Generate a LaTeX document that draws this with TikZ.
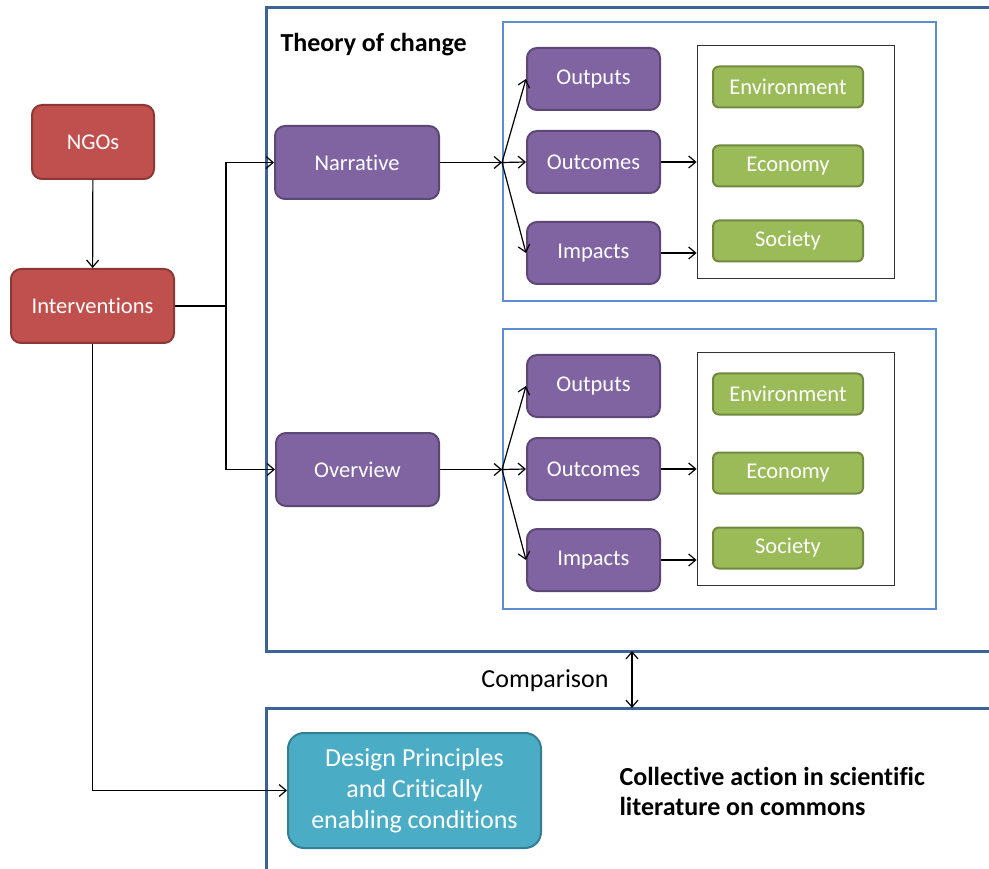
\documentclass[tikz,border=0pt]{standalone}
\usepackage{fontspec}
\setmainfont{Carlito}[Ligatures={NoCommon,NoRare,NoContextual}]
\usepackage{tikz}
\usetikzlibrary{arrows.meta,positioning,calc}
\definecolor{ngored}{HTML}{C0504D}
\definecolor{ngoedge}{HTML}{8C3836}
\definecolor{tocpurple}{HTML}{8064A2}
\definecolor{tocedge}{HTML}{5C4776}
\definecolor{dimgreen}{HTML}{9BBB59}
\definecolor{dimedge}{HTML}{71893F}
\definecolor{litcyan}{HTML}{4BACC6}
\definecolor{litedge}{HTML}{357D91}
\definecolor{framedark}{HTML}{3D6396}
\definecolor{framelight}{HTML}{5B8FD0}
\tikzset{
  boxtext/.style={text=white, font=\fontsize{22.5}{27}\selectfont, rounded corners=10pt, line width=2pt, align=center, inner sep=0pt},
  redbox/.style={boxtext, fill=ngored, draw=ngoedge},
  purplebox/.style={boxtext, fill=tocpurple, draw=tocedge},
  greenbox/.style={boxtext, fill=dimgreen, draw=dimedge, rounded corners=6pt, minimum width=150pt, minimum height=41pt},
  conn/.style={line width=1.2pt, ->},
}

\begin{document}
\begin{tikzpicture}[x=1pt, y=-1pt, >={Straight Barb[length=7pt,width=12pt]}]
\clip (0,0) rectangle (989,869);

% frames
\draw[framedark, line width=3pt] (1000,8) -- (266,8) -- (266,651) -- (1000,651);
\draw[framedark, line width=3pt] (1000,708) -- (266,708) -- (266,880);
\node[anchor=west, font=\fontsize{26}{30}\selectfont\bfseries] (toctitle) at (277,45) {Theory of change};

% inner frames
\foreach \y/\n in {162/1, 469/2} {
  \node[draw=framelight, line width=2pt, minimum width=433pt, minimum height=279pt, inner sep=0pt] (frame\n) at (719.5,\y) {};
  \node[draw=black!80, line width=0.9pt, minimum width=197pt, minimum height=233pt, inner sep=0pt] (dom\n) at (795.5,\y) {};
}

% NGOs / interventions
\node[redbox, minimum width=122pt, minimum height=74pt] (ngo) at (93,142) {NGOs};
\node[redbox, minimum width=163pt, minimum height=74pt] (interv) at (92.5,306) {Interventions};
\draw[conn] (ngo) -- (interv);

% narrative / overview
\node[purplebox, minimum width=164pt, minimum height=73pt] (narr) at (357,162.5) {Narrative};
\node[purplebox, minimum width=163pt, minimum height=73pt] (over) at (357.5,469.5) {Overview};
\coordinate (split) at (226,306);
\draw[line width=1.2pt] (interv.east) -- (split);
\draw[conn] (split) |- (narr.west);
\draw[conn] (split) |- (over.west);

% chains
\foreach \y/\n/\src in {162/1/narr, 469/2/over} {
  \node[purplebox, minimum width=133pt, minimum height=62pt] (outp\n) at (593.5,\y-83) {Outputs};
  \node[purplebox, minimum width=133pt, minimum height=62pt] (outc\n) at (593.5,\y) {Outcomes};
  \node[purplebox, minimum width=133pt, minimum height=62pt] (imp\n) at (593.5,\y+91) {Impacts};
  \node[greenbox] (env\n) at (788,\y-75) {Environment};
  \node[greenbox] (econ\n) at (788,\y+4) {Economy};
  \node[greenbox] (soc\n) at (788,\y+79) {Society};
  \coordinate (fan\n) at (frame\n.west |- \src.east);
  \draw[conn] (\src.east) -- (fan\n);
  \draw[conn] (fan\n) -- (outp\n.west);
  \draw[conn] (fan\n) -- (outc\n.west);
  \draw[conn] (fan\n) -- (imp\n.west);
  \draw[conn] (outc\n.east) -- (outc\n.east -| dom\n.west);
  \draw[conn] (imp\n.east) -- (imp\n.east -| dom\n.west);
}

% comparison
\coordinate (cmptop) at (632,651);
\coordinate (cmpbot) at (632,708);
\draw[line width=1.2pt, <->] (cmptop) -- (cmpbot);
\node[font=\fontsize{26}{30}\selectfont] (cmp) at (545,681) {Comparison};

% literature
\node[boxtext, fill=litcyan, draw=litedge, rounded corners=16pt, minimum width=253pt, minimum height=115pt, font=\fontsize{26}{31}\selectfont] (design) at (414.5,790.5) {Design Principles\\and Critically\\enabling conditions};
\draw[conn] (interv.south) |- (design.west);
\node[anchor=west, align=left, font=\fontsize{26}{30}\selectfont\bfseries] (lit) at (616,791) {Collective action in scientific\\literature on commons};

\end{tikzpicture}
\end{document}
